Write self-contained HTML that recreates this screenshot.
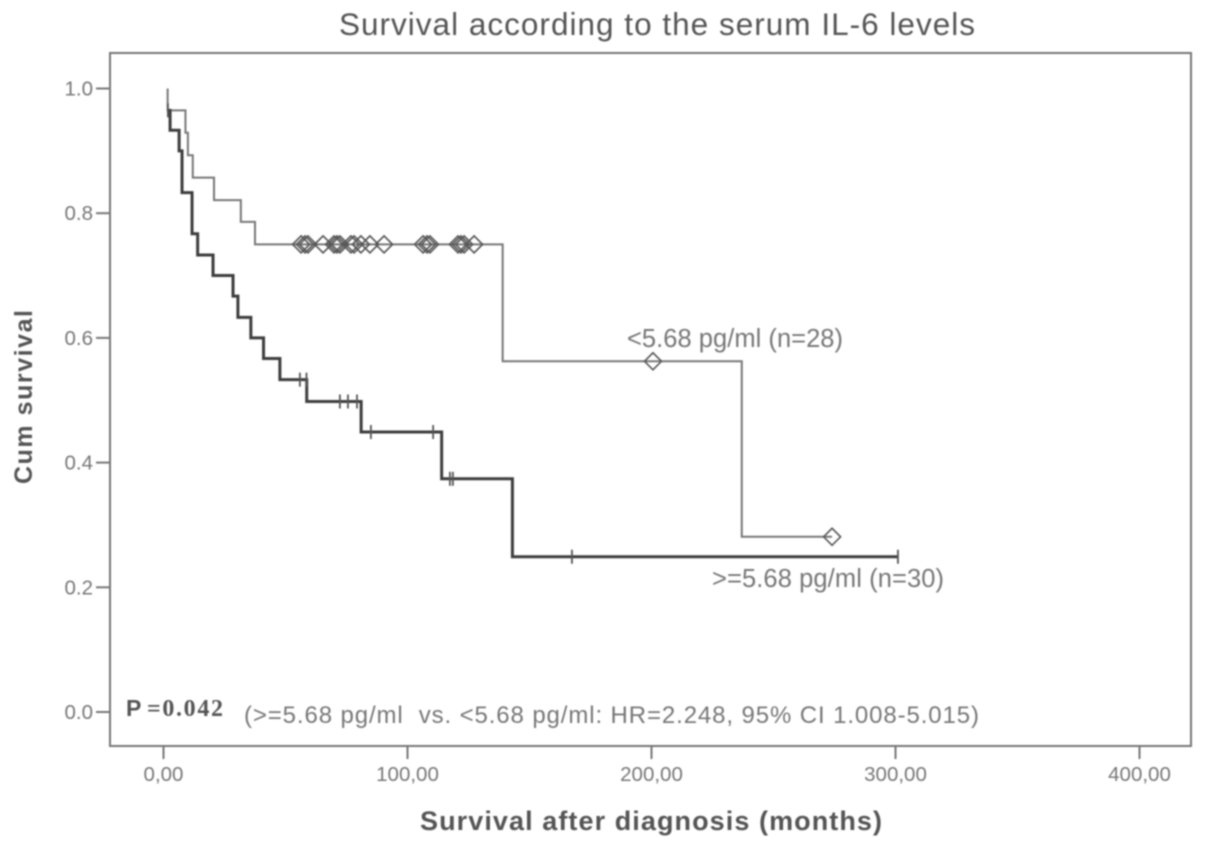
<!DOCTYPE html>
<html>
<head>
<meta charset="utf-8">
<title>Survival according to the serum IL-6 levels</title>
<style>
html,body{margin:0;padding:0;background:#fff;}
svg{display:block;}
text{font-family:"Liberation Sans",sans-serif;white-space:pre;}
</style>
</head>
<body>
<svg id="chart" xmlns="http://www.w3.org/2000/svg" width="1205" height="849" viewBox="0 0 1205 849">
  <defs><filter id="soft" x="-5%" y="-5%" width="110%" height="110%"><feGaussianBlur stdDeviation="0.7"/></filter></defs>
  <g id="root" filter="url(#soft)"></g>
</svg>
<script>
const xTicks = [0, 100, 200, 300, 400];
const xTickLabels = ["0,00", "100,00", "200,00", "300,00", "400,00"];
const yTicks = [0, 0.2, 0.4, 0.6, 0.8, 1.0];
const yTickLabels = ["0.0", "0.2", "0.4", "0.6", "0.8", "1.0"];

const lowTimes = [1.7, 9, 10, 12, 20.7, 31.7, 37.5, 139, 237, 274];
const lowSurvival = [0.965, 0.929, 0.893, 0.857, 0.821, 0.786, 0.75, 0.5625, 0.281, 0.281];
const lowCensored = [56.4, 58, 59.2, 65.4, 69.9, 71.1, 72.3, 76.8, 78.1, 80.9, 84.6, 90.4, 106.4, 108, 109.2, 120.7, 121.9, 123.2, 127.3, 200.6, 274];

const highTimes = [1.7, 2.7, 6.4, 7.6, 11.7, 14, 20.3, 28.5, 30.5, 35.8, 41, 47.7, 58.7, 81, 114, 143, 301];
const highSurvival = [0.965, 0.933, 0.9, 0.833, 0.767, 0.733, 0.7, 0.667, 0.633, 0.6, 0.567, 0.533, 0.498, 0.449, 0.374, 0.249, 0.249];
const highCensored = [1.8, 55.9, 58.6, 72.3, 75.6, 79.3, 85, 110.5, 117.4, 118.6, 167.4, 301];

const NS = "http://www.w3.org/2000/svg";
const root = document.getElementById("root");
const sx = t => 163.5 + t * 2.44;
const sy = s => 712 - s * 623.5;

function make(tag, attrs, txt) {
  const el = document.createElementNS(NS, tag);
  for (const k in attrs) el.setAttribute(k, attrs[k]);
  if (txt !== undefined) el.textContent = txt;
  root.appendChild(el);
  return el;
}

function stepPath(times, surv, startValue) {
  let d = "M" + sx(times[0]) + " " + sy(startValue) + "V" + sy(surv[0]);
  for (let i = 1; i < times.length; i++) {
    d += "H" + sx(times[i]) + "V" + sy(surv[i]);
  }
  return d;
}

function survivalAt(times, surv, t) {
  let s = 1;
  for (let i = 0; i < times.length; i++) {
    if (t >= times[i]) s = surv[i];
  }
  return s;
}

const frame = make("rect", {x: 110, y: 53, width: 1081, height: 693, fill: "none", stroke: "#777", "stroke-width": 2});



xTicks.forEach((v, i) => {
  const tick = make("line", {x1: sx(v), x2: sx(v), y1: 746, y2: 759, stroke: "#777", "stroke-width": 2});
  
  
  const label = make("text", {x: sx(v), y: 781, "text-anchor": "middle", "font-size": 20.5, fill: "#777"}, xTickLabels[i]);
  
  
});

yTicks.forEach((v, i) => {
  const tick = make("line", {x1: 96, x2: 110, y1: sy(v), y2: sy(v), stroke: "#777", "stroke-width": 2});
  
  
  const label = make("text", {x: 93, y: sy(v) + 7, "text-anchor": "end", "font-size": 20.5, fill: "#777"}, yTickLabels[i]);
  
  
});

const lowLine = make("path", {d: stepPath(lowTimes, lowSurvival, 1), fill: "none", stroke: "#777", "stroke-width": 2});



lowCensored.forEach(t => {
  const x = sx(t), y = sy(survivalAt(lowTimes, lowSurvival, t));
  const r = 8.5;
  const d = make("path", {d: "M" + (x - r) + " " + y + "L" + x + " " + (y - r) + "L" + (x + r) + " " + y + "L" + x + " " + (y + r) + "Z", fill: "none", stroke: "#555", "stroke-width": 1.6});
  
  
});

const highLine = make("path", {d: stepPath(highTimes, highSurvival, highSurvival[0]), fill: "none", stroke: "#3c3c3c", "stroke-width": 3});



highCensored.forEach(t => {
  const x = sx(t), y = sy(survivalAt(highTimes, highSurvival, t));
  const m = make("line", {x1: x, x2: x, y1: y - 7, y2: y + 7, stroke: "#555", "stroke-width": 1.8});
  
  
});

const title = make("text", {x: 339, y: 35, "font-size": 31.5, fill: "#555", textLength: 636, lengthAdjust: "spacing"}, "Survival according to the serum IL-6 levels");



const xTitle = make("text", {x: 420, y: 830, "font-size": 27, "font-weight": "bold", fill: "#555", textLength: 462, lengthAdjust: "spacing"}, "Survival after diagnosis (months)");



const yTitle = make("text", {x: 0, y: 0, transform: "translate(32 484) rotate(-90)", "font-size": 25, "font-weight": "bold", fill: "#555", textLength: 174, lengthAdjust: "spacing"}, "Cum survival");



const lowLabel = make("text", {x: 627, y: 347, "font-size": 25.5, fill: "#777", textLength: 216, lengthAdjust: "spacing"}, "<5.68 pg/ml (n=28)");



const highLabel = make("text", {x: 712, y: 587, "font-size": 25.5, fill: "#777", textLength: 232, lengthAdjust: "spacing"}, ">=5.68 pg/ml (n=30)");



const pLabel = make("text", {x: 126, y: 716, "font-size": 23, fill: "#555", "font-weight": "bold"}, "P");



const pValue = make("text", {x: 147, y: 716, "font-size": 24, "font-weight": "bold", fill: "#555", style: "font-family:'Liberation Serif',serif", textLength: 76, lengthAdjust: "spacing"}, "=0.042");



const hazard = make("text", {x: 244, y: 723, "font-size": 24, fill: "#777", textLength: 735, lengthAdjust: "spacing"}, "(>=5.68 pg/ml  vs. <5.68 pg/ml: HR=2.248, 95% CI 1.008-5.015)");


</script>
</body>
</html>
